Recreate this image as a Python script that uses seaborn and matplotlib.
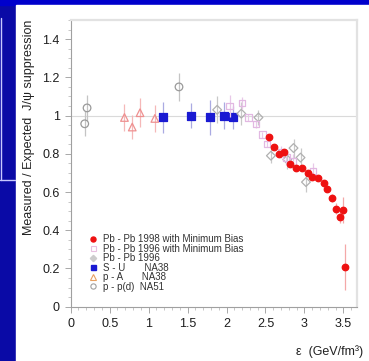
import numpy as np
import pandas as pd
import matplotlib
matplotlib.use("Agg")
import matplotlib.pyplot as plt
from matplotlib.lines import Line2D
from matplotlib.patches import Rectangle
from matplotlib.ticker import MultipleLocator, FuncFormatter
import seaborn as sns

# ---- J/psi suppression vs energy density ----
pbpb98_eps = [2.55, 2.61, 2.68, 2.74, 2.81, 2.89, 2.97, 3.04, 3.10, 3.17,
              3.25, 3.29, 3.35, 3.40, 3.46, 3.50, 3.52]
pbpb98_val = [0.887, 0.838, 0.798, 0.808, 0.749, 0.725, 0.726, 0.698, 0.681,
              0.672, 0.646, 0.618, 0.569, 0.513, 0.468, 0.506, 0.209]
pbpb98_err = [0.015, 0.015, 0.015, 0.015, 0.015, 0.015, 0.015, 0.015, 0.015,
              0.015, 0.015, 0.015, 0.02, 0.03, 0.03, 0.07, 0.12]

pbpb96mb_eps = [2.04, 2.20, 2.28, 2.38, 2.46, 2.52, 2.70, 2.77, 2.85, 3.11]
pbpb96mb_val = [1.05, 1.065, 0.99, 0.955, 0.90, 0.85, 0.81, 0.78, 0.76, 0.71]
pbpb96mb_err = [0.06, 0.03, 0.02, 0.02, 0.015, 0.015, 0.03, 0.04, 0.04, 0.04]

pbpb96_eps = [1.88, 2.19, 2.41, 2.57, 2.78, 2.86, 2.95, 3.02]
pbpb96_val = [1.03, 1.01, 0.99, 0.79, 0.77, 0.83, 0.78, 0.652]
pbpb96_err = [0.07, 0.06, 0.04, 0.04, 0.05, 0.05, 0.05, 0.05]

su_eps = [1.18, 1.54, 1.79, 1.97, 2.08]
su_val = [0.99, 1.00, 0.99, 1.00, 0.99]
su_err = [0.08, 0.065, 0.09, 0.07, 0.06]

pa_eps = [0.69, 0.79, 0.89, 1.08]
pa_val = [0.99, 0.94, 1.015, 0.985]
pa_err = [0.07, 0.065, 0.075, 0.07]

pp_eps = [0.18, 0.21, 1.39]
pp_val = [0.957, 1.04, 1.15]
pp_err = [0.065, 0.07, 0.075]

legend_labels = ["Pb - Pb 1998 with Minimum Bias",
                 "Pb - Pb 1996 with Minimum Bias",
                 "Pb - Pb 1996",
                 "S - U       NA38",
                 "p - A       NA38",
                 "p - p(d)  NA51"]

x_ticks = [0, 0.5, 1, 1.5, 2, 2.5, 3, 3.5]
y_ticks = [0, 0.2, 0.4, 0.6, 0.8, 1.0, 1.2, 1.4]

sns.set_theme(style="white")
plt.rcParams['font.family'] = ['Liberation Sans', 'DejaVu Sans']

W, H = 369, 361
fig = plt.figure(figsize=(W / 100, H / 100), dpi=100)
fig.patch.set_facecolor('#0a0aa6')

# slide background: bright strip on top, white panel behind the plot
fig.add_artist(Rectangle((0, 1 - 5 / H), 1, 5 / H, transform=fig.transFigure,
                         color='#0000cc', zorder=0))
fig.add_artist(Rectangle((16 / W, 0), 1 - 16 / W, 1 - 5 / H,
                         transform=fig.transFigure, color='white', zorder=0))
fig.add_artist(Line2D([1 / W, 1 / W], [1 - 18 / H, 1 - 180 / H],
                      transform=fig.transFigure, color='#c8c8ff', lw=1))
fig.add_artist(Line2D([0, 15 / W], [1 - 180 / H, 1 - 180 / H],
                      transform=fig.transFigure, color='#c8c8ff', lw=1))

L, R, T, B = 70.7, 357, 20, 306.7
ax = fig.add_axes([L / W, 1 - B / H, (R - L) / W, (B - T) / H])
ax.set_facecolor('white')
ax.set_xlim(0, 3.675)
ax.set_ylim(0, 1.5)

ax.axhline(1.0, color='#dadada', lw=0.8, zorder=1)

series = [
    # eps, val, err, marker, face, edge, errcolor, size
    (pp_eps, pp_val, pp_err, 'o', 'none', '#9a9a9a', '#c4c4c4', 30),
    (pa_eps, pa_val, pa_err, '^', 'none', '#ee9090', '#f5b8b8', 30),
    (su_eps, su_val, su_err, 's', '#1a1ad2', '#1a1ad2', '#aaaae2', 28),
    (pbpb96_eps, pbpb96_val, pbpb96_err, 'D', 'none', '#b0b0b0', '#c8c8c8', 20),
    (pbpb96mb_eps, pbpb96mb_val, pbpb96mb_err, 's', 'none', '#e2b8e2', '#e8c8e8', 22),
    (pbpb98_eps, pbpb98_val, pbpb98_err, 'o', '#ee1111', '#ee1111', '#f4a8a8', 22),
]

for i, (e, v, err, mk, fc, ec, erc, s) in enumerate(series):
    df = pd.DataFrame({"eps": e, "val": v, "err": err})
    ax.errorbar(df["eps"], df["val"], yerr=df["err"], fmt='none',
                ecolor=erc, elinewidth=0.9, capsize=0, zorder=2 + i)
    sns.scatterplot(data=df, x="eps", y="val", ax=ax, marker=mk, s=s,
                    facecolors=fc, edgecolor=ec, linewidth=0.9,
                    zorder=3 + i, legend=False)

ax.set_xticks(x_ticks)
ax.set_yticks(y_ticks)
fmt = FuncFormatter(lambda v, p: f"{v:g}")
ax.xaxis.set_major_formatter(fmt)
ax.yaxis.set_major_formatter(fmt)
ax.xaxis.set_minor_locator(MultipleLocator(0.1))
ax.yaxis.set_minor_locator(MultipleLocator(0.05))
ax.tick_params(which='major', direction='out', length=4, width=0.6,
               color='#9a9a9a', labelsize=9, labelcolor='#1e1e1e', pad=4.0,
               bottom=True, left=True)
ax.tick_params(which='minor', direction='out', length=2, width=0.5,
               color='#b0b0b0', bottom=True, left=True)

for side in ('left', 'bottom'):
    ax.spines[side].set_color('#a0a0a0')
    ax.spines[side].set_linewidth(0.8)
for side in ('top', 'right'):
    ax.spines[side].set_color('#e2e2e2')
    ax.spines[side].set_linewidth(1.6)

ax.set_ylabel("Measured / Expected  J/\u03c8 suppression", fontsize=9,
              color='#222222', loc='top')
ax.yaxis.set_label_coords(-0.125, 1.0)
ax.set_xlabel("\u03b5  (GeV/fm\u00b3)", fontsize=9, color='#222222', loc='right')
ax.xaxis.set_label_coords(1.021, -0.135)
ax.xaxis.label.set_verticalalignment('top')

handles = [
    Line2D([], [], ls='none', marker='o', ms=3.6, mfc='#ee1111', mec='#ee1111'),
    Line2D([], [], ls='none', marker='s', ms=3.6, mfc='none', mec='#e8c0e0', mew=0.8),
    Line2D([], [], ls='none', marker='D', ms=3.2, mfc='#cccccc', mec='#cccccc'),
    Line2D([], [], ls='none', marker='s', ms=3.6, mfc='#1a1ad2', mec='#1a1ad2'),
    Line2D([], [], ls='none', marker='^', ms=3.8, mfc='none', mec='#e8a060', mew=0.8),
    Line2D([], [], ls='none', marker='o', ms=3.8, mfc='none', mec='#a0a0a0', mew=0.8),
]
leg = ax.legend(handles, legend_labels, loc='upper left',
                bbox_to_anchor=(0.061, 0.2525), frameon=False, fontsize=7,
                handlelength=1.0, handletextpad=0.5, labelspacing=-0.05,
                borderpad=0, borderaxespad=0)
for t in leg.get_texts():
    t.set_color('#333333')

fig.savefig("out.png", dpi=100, facecolor=fig.get_facecolor())
